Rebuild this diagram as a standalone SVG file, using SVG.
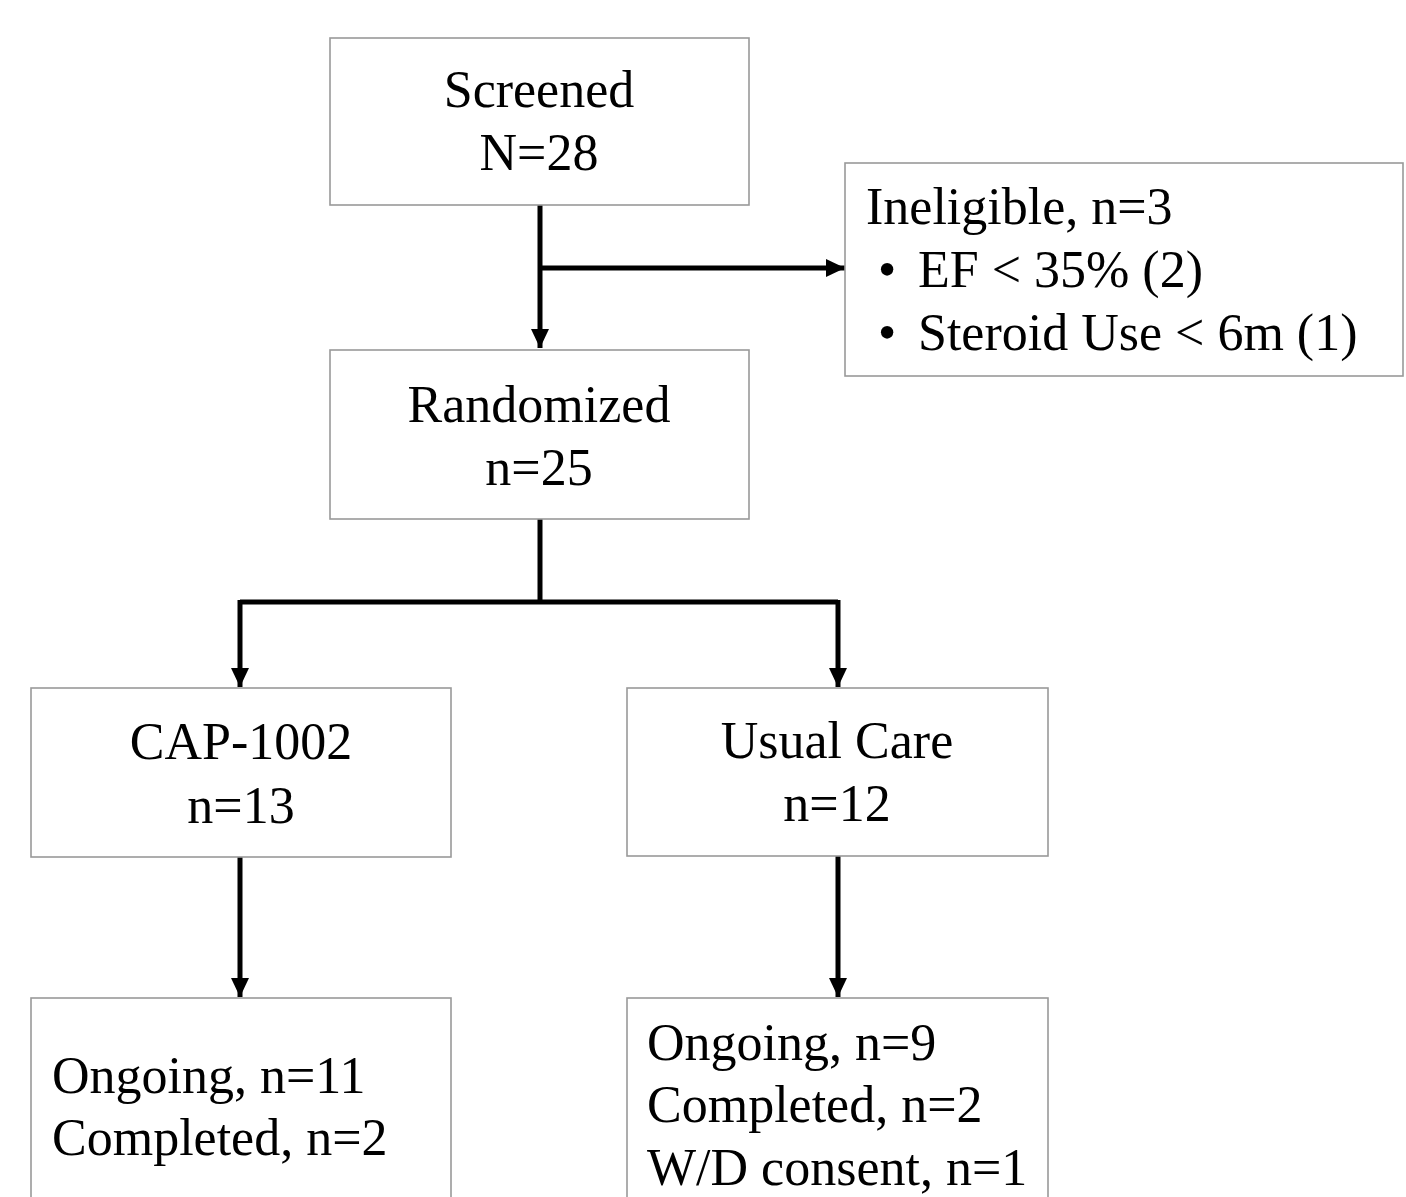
<svg xmlns="http://www.w3.org/2000/svg" width="1406" height="1197" viewBox="0 0 1406 1197">
<style>
.box{fill:#fff;stroke:#999;stroke-width:1.6}
.t{font-family:"Liberation Serif","Times New Roman",serif;font-size:52px;fill:#000}
.c{text-anchor:middle}
.ln{fill:none;stroke:#000;stroke-width:5}
</style>
<defs>
<marker id="ah" markerUnits="userSpaceOnUse" markerWidth="20" markerHeight="20" viewBox="0 0 20 20" refX="19" refY="10" orient="auto">
<path d="M0,1 L19,10 L0,19 Z" fill="#000"/>
</marker>
</defs>
<rect width="1406" height="1197" fill="#fff"/>
<g id="connectors">
<path class="ln" d="M540,205 V348" marker-end="url(#ah)"/>
<path class="ln" d="M540,268 H845" marker-end="url(#ah)"/>
<path class="ln" d="M540,519 V602"/>
<path class="ln" d="M240,602 H838"/>
<path class="ln" d="M240,600 V687" marker-end="url(#ah)"/>
<path class="ln" d="M838,600 V687" marker-end="url(#ah)"/>
<path class="ln" d="M240,857 V997" marker-end="url(#ah)"/>
<path class="ln" d="M838,856 V997" marker-end="url(#ah)"/>
</g>
<g id="screened">
<rect class="box" x="330" y="38" width="419" height="167"/>
<text class="t c" x="539" y="107">Screened</text>
<text class="t c" x="539" y="170">N=28</text>
</g>
<g id="ineligible">
<rect class="box" x="845" y="163" width="558" height="213"/>
<text class="t" x="866" y="224">Ineligible, n=3</text>
<text class="t" x="878" y="287">•</text>
<text class="t" x="918" y="287">EF &lt; 35% (2)</text>
<text class="t" x="878" y="350">•</text>
<text class="t" x="918" y="350">Steroid Use &lt; 6m (1)</text>
</g>
<g id="randomized">
<rect class="box" x="330" y="350" width="419" height="169"/>
<text class="t c" x="539" y="422">Randomized</text>
<text class="t c" x="539" y="485">n=25</text>
</g>
<g id="cap1002">
<rect class="box" x="31" y="688" width="420" height="169"/>
<text class="t c" x="241" y="759">CAP-1002</text>
<text class="t c" x="241" y="823">n=13</text>
</g>
<g id="usualcare">
<rect class="box" x="627" y="688" width="421" height="168"/>
<text class="t c" x="837" y="758">Usual Care</text>
<text class="t c" x="837" y="821">n=12</text>
</g>
<g id="cap-outcome">
<rect class="box" x="31" y="998" width="420" height="230"/>
<text class="t" x="52" y="1093">Ongoing, n=11</text>
<text class="t" x="52" y="1155">Completed, n=2</text>
</g>
<g id="uc-outcome">
<rect class="box" x="627" y="998" width="421" height="230"/>
<text class="t" x="647" y="1060">Ongoing, n=9</text>
<text class="t" x="647" y="1122">Completed, n=2</text>
<text class="t" x="647" y="1185">W/D consent, n=1</text>
</g>
</svg>
